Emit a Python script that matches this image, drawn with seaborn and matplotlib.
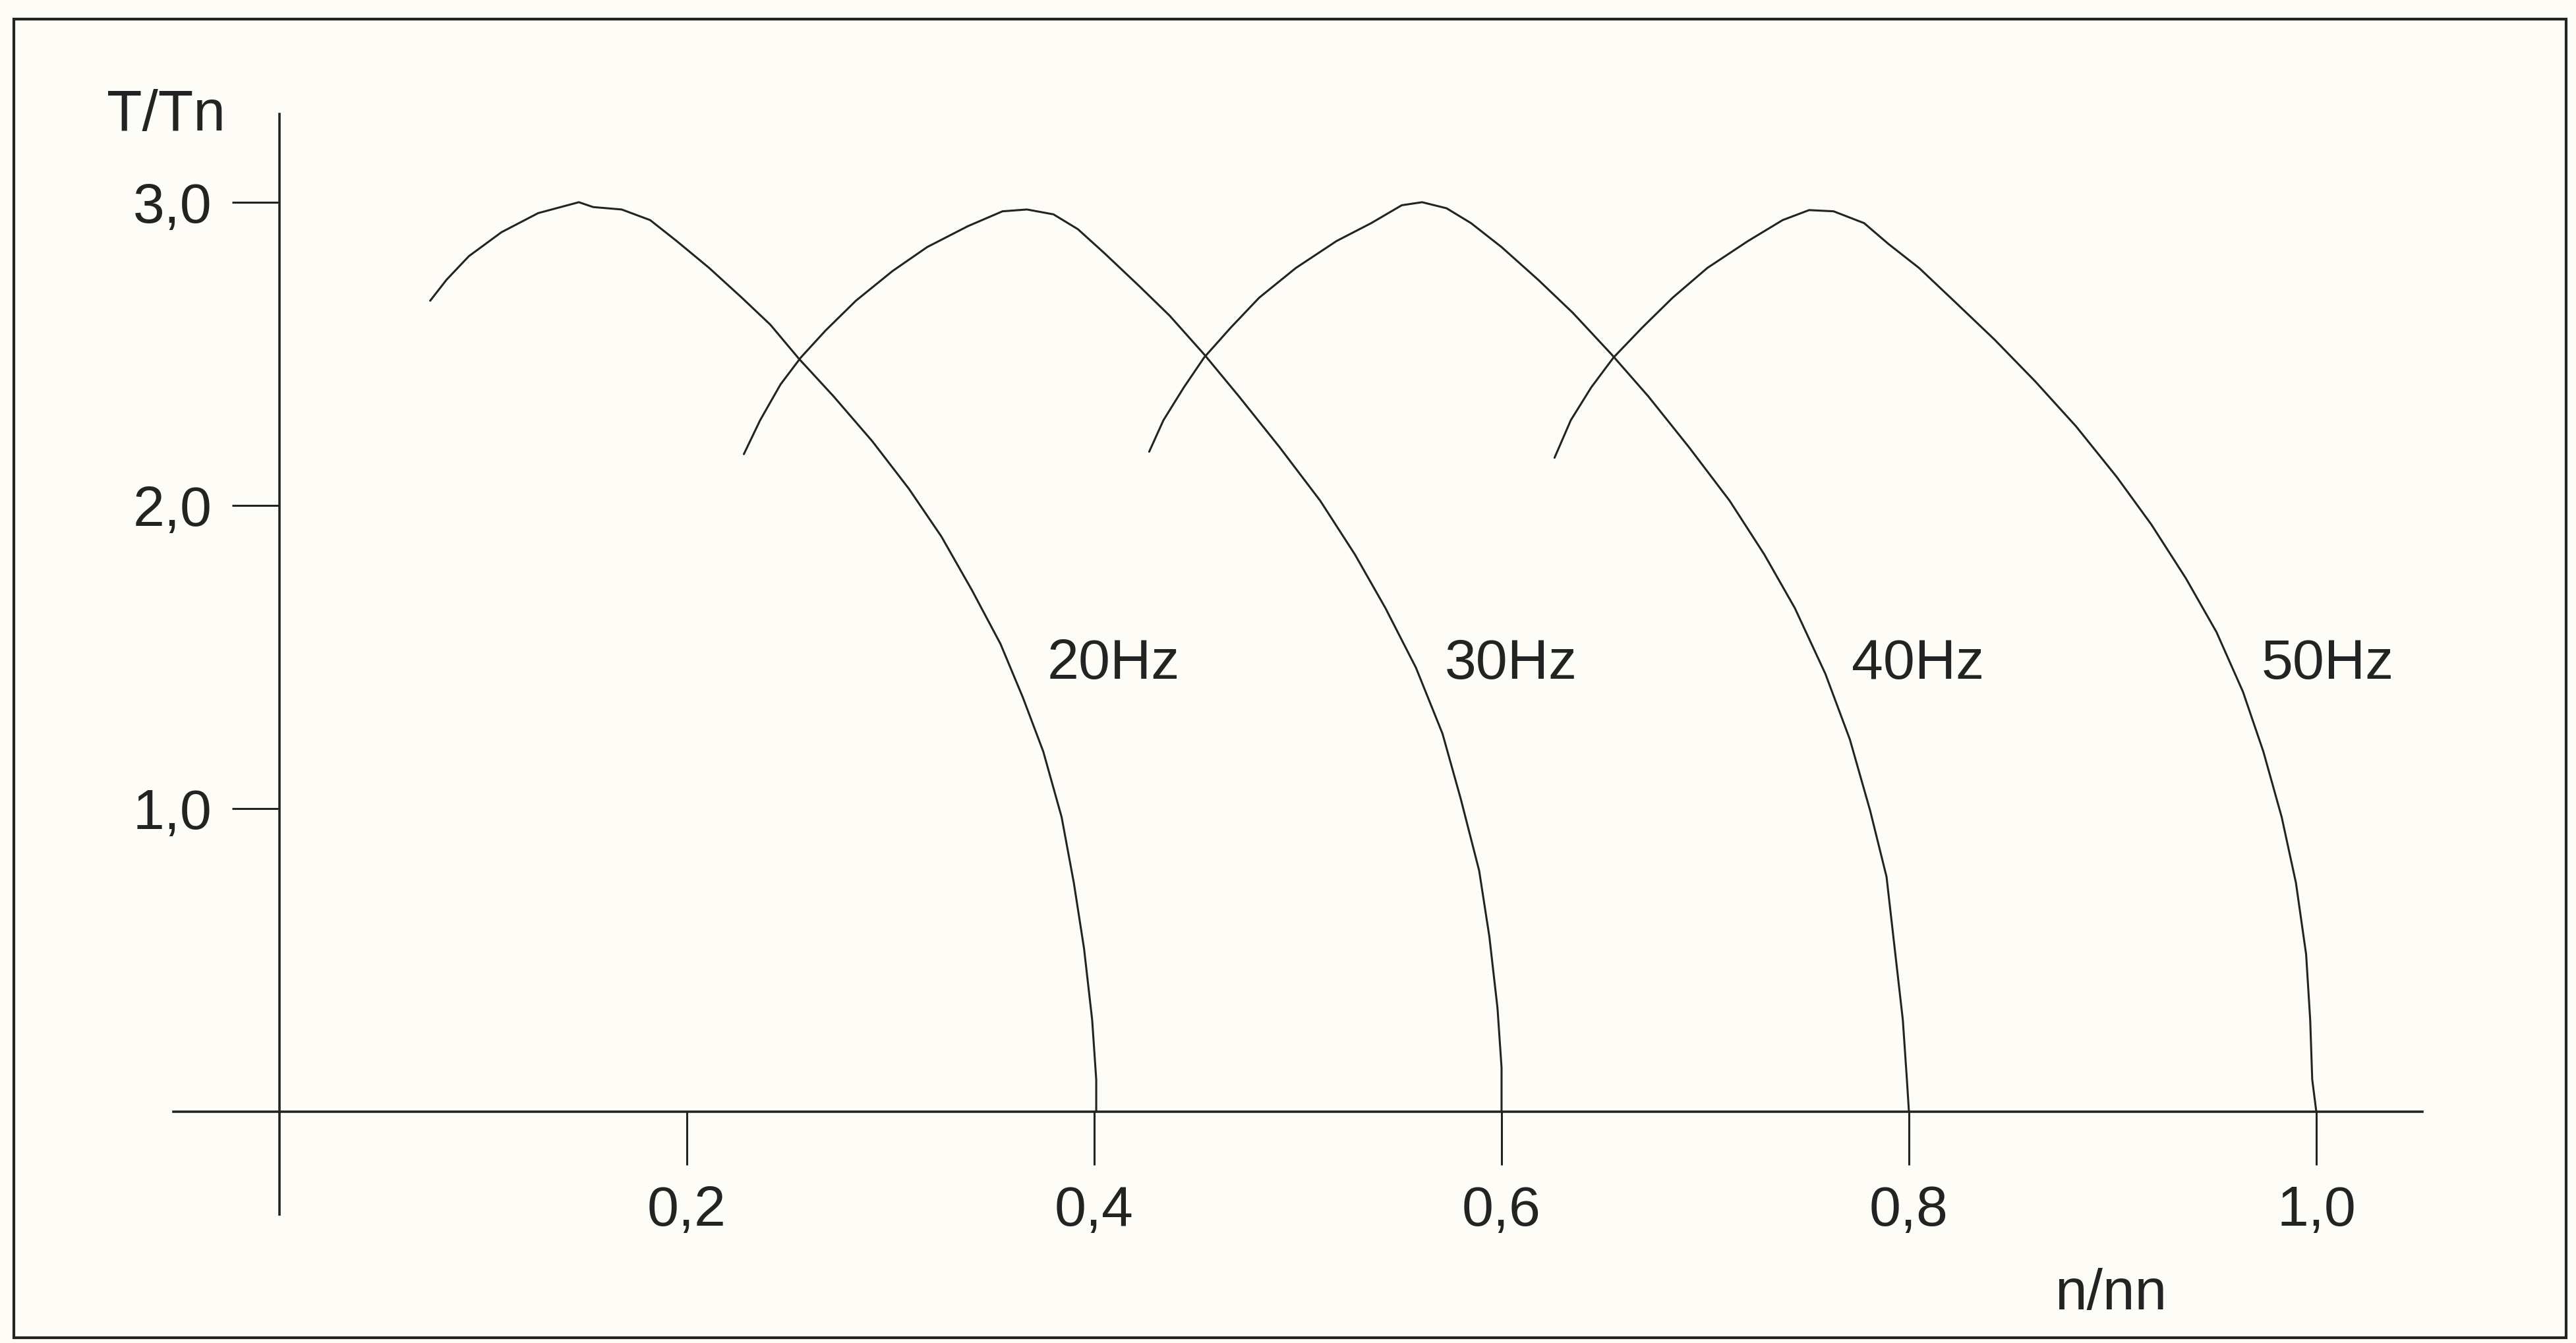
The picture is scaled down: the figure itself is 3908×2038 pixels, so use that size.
import pandas as pd
import seaborn as sns
import matplotlib.pyplot as plt
from matplotlib.patches import Rectangle

# torque / speed curves (n/nn, T/Tn)
n_20hz = [0.074, 0.082, 0.093, 0.109, 0.127, 0.147, 0.154, 0.168, 0.182, 0.195, 0.211, 0.227,
          0.241, 0.255, 0.272, 0.291, 0.309, 0.325, 0.340, 0.354, 0.365, 0.375, 0.384, 0.390,
          0.395, 0.399, 0.401, 0.401]
t_20hz = [2.675, 2.744, 2.822, 2.901, 2.964, 3.000, 2.984, 2.976, 2.941, 2.872, 2.783, 2.685,
          2.596, 2.484, 2.360, 2.212, 2.055, 1.897, 1.720, 1.543, 1.366, 1.188, 0.972, 0.755,
          0.539, 0.303, 0.106, 0.0]

n_30hz = [0.228, 0.236, 0.246, 0.256, 0.268, 0.283, 0.301, 0.318, 0.338, 0.355, 0.367, 0.380,
          0.392, 0.405, 0.422, 0.437, 0.454, 0.471, 0.491, 0.511, 0.528, 0.543, 0.558, 0.571,
          0.580, 0.589, 0.594, 0.598, 0.600, 0.600]
t_30hz = [2.169, 2.281, 2.399, 2.488, 2.576, 2.675, 2.773, 2.852, 2.921, 2.970, 2.976, 2.960,
          2.911, 2.832, 2.724, 2.626, 2.498, 2.360, 2.192, 2.015, 1.838, 1.661, 1.464, 1.247,
          1.031, 0.795, 0.578, 0.342, 0.145, 0.0]

n_40hz = [0.427, 0.434, 0.444, 0.454, 0.467, 0.481, 0.499, 0.519, 0.536, 0.551, 0.561, 0.573,
          0.585, 0.600, 0.618, 0.635, 0.654, 0.672, 0.692, 0.712, 0.729, 0.744, 0.759, 0.771,
          0.781, 0.789, 0.793, 0.797, 0.799, 0.800]
t_40hz = [2.177, 2.281, 2.389, 2.488, 2.586, 2.685, 2.783, 2.872, 2.931, 2.990, 3.000, 2.980,
          2.931, 2.852, 2.744, 2.635, 2.498, 2.360, 2.192, 2.015, 1.838, 1.661, 1.444, 1.228,
          0.992, 0.775, 0.539, 0.303, 0.106, 0.0]

n_50hz = [0.626, 0.634, 0.644, 0.655, 0.669, 0.684, 0.701, 0.721, 0.738, 0.751, 0.763, 0.778,
          0.790, 0.805, 0.822, 0.842, 0.862, 0.882, 0.902, 0.919, 0.936, 0.951, 0.964, 0.974,
          0.983, 0.990, 0.995, 0.997, 0.998, 1.0]
t_50hz = [2.157, 2.281, 2.389, 2.488, 2.586, 2.685, 2.783, 2.872, 2.941, 2.974, 2.970, 2.931,
          2.862, 2.783, 2.675, 2.547, 2.409, 2.261, 2.094, 1.937, 1.759, 1.582, 1.385, 1.188,
          0.972, 0.755, 0.519, 0.303, 0.106, 0.0]

curve_names = ['20Hz', '30Hz', '40Hz', '50Hz']
label_x = [0.377, 0.572, 0.772, 0.973]
label_y = 1.475

x_ticks = [0.2, 0.4, 0.6, 0.8, 1.0]
x_ticklabels = ['0,2', '0,4', '0,6', '0,8', '1,0']
y_ticks = [1.0, 2.0, 3.0]
y_ticklabels = ['1,0', '2,0', '3,0']

ink = '#232323'
paper = '#fefcf6'


def build_frame():
    parts = []
    for name, n, t in zip(curve_names, [n_20hz, n_30hz, n_40hz, n_50hz],
                          [t_20hz, t_30hz, t_40hz, t_50hz]):
        parts.append(pd.DataFrame({'n': n, 'T': t, 'f': name}))
    return pd.concat(parts, ignore_index=True)


def main():
    sns.set_style('white')
    plt.rcParams['font.family'] = ['Liberation Sans', 'DejaVu Sans']

    df = build_frame()

    fig = plt.figure(figsize=(39.08, 20.38), dpi=100, facecolor=paper)
    ax = fig.add_axes([0, 0, 1, 1])
    ax.set_facecolor('none')

    sns.lineplot(data=df, x='n', y='T', hue='f', palette=[ink] * 4,
                 sort=False, estimator=None, legend=False, linewidth=2.2, ax=ax)

    # data limits chosen so the axes sit where they do in the original sheet
    ax.set_xlim(-0.1372, 1.1275)
    ax.set_ylim(-0.763, 3.667)

    for side in ['top', 'right']:
        ax.spines[side].set_visible(False)
    ax.spines['left'].set_position(('data', 0))
    ax.spines['bottom'].set_position(('data', 0))
    ax.spines['left'].set_bounds(-0.34, 3.29)
    ax.spines['bottom'].set_bounds(-0.052, 1.052)
    for side in ['left', 'bottom']:
        ax.spines[side].set_color(ink)
        ax.spines[side].set_linewidth(2.6)

    ax.set_xticks(x_ticks)
    ax.set_xticklabels(x_ticklabels)
    ax.set_yticks(y_ticks)
    ax.set_yticklabels(y_ticklabels)
    ax.tick_params(axis='x', bottom=True, direction='out', length=58, width=2.2, pad=22,
                   colors=ink, labelsize=62)
    ax.tick_params(axis='y', left=True, direction='out', length=52, width=2.2, pad=22,
                   colors=ink, labelsize=62)
    ax.set_xlabel('')
    ax.set_ylabel('')

    for name, lx in zip(curve_names, label_x):
        ax.text(lx, label_y, name, fontsize=62, color=ink, ha='left', va='center')

    ax.text(-0.0848, 3.237, 'T/Tn', fontsize=63, color=ink, ha='left', va='baseline')
    ax.text(0.8715, -0.652, 'n/nn', fontsize=63, color=ink, ha='left', va='baseline')

    # printed frame around the figure
    fig.patches.append(Rectangle((21 / 3908, (2038 - 2030) / 2038),
                                 (3893 - 21) / 3908, (2030 - 29) / 2038,
                                 transform=fig.transFigure, fill=False,
                                 edgecolor=ink, linewidth=3.0))

    fig.savefig('out.png', dpi=100, facecolor=paper)


if __name__ == '__main__':
    main()
